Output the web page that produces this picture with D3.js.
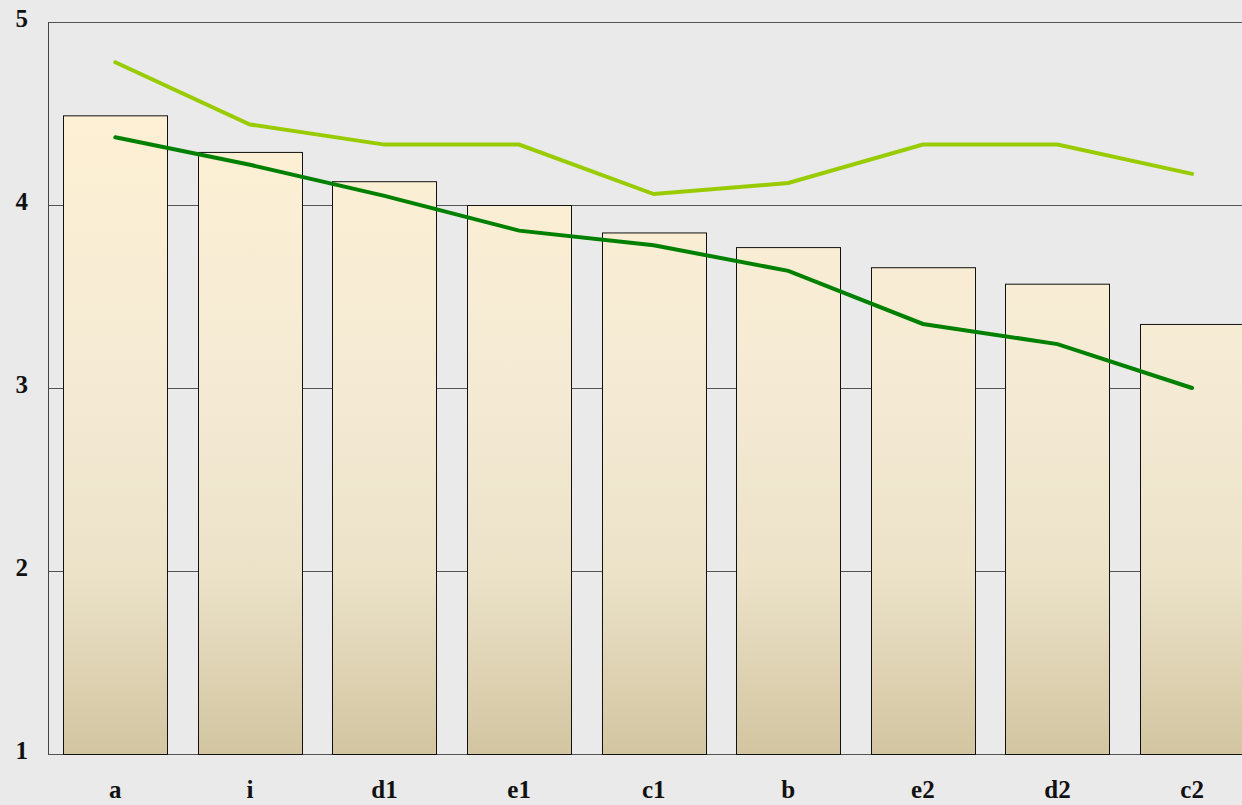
<!DOCTYPE html>
<html>
<head>
<meta charset="utf-8">
<script src="https://cdn.jsdelivr.net/npm/d3@7"></script>
<style>
  html, body { margin: 0; padding: 0; background: #eaeaea; overflow: hidden; }
  svg { display: block; }
</style>
</head>
<body>
<div id="chart"></div>
<script>
// Data
const categories = ["a", "i", "d1", "e1", "c1", "b", "e2", "d2", "c2"];
const barValues = [4.49, 4.29, 4.13, 4.00, 3.85, 3.77, 3.66, 3.57, 3.35];
const darkLine = [4.37, 4.22, 4.05, 3.86, 3.78, 3.64, 3.35, 3.24, 3.00];
const lightLine = [4.78, 4.44, 4.33, 4.33, 4.06, 4.12, 4.33, 4.33, 4.17];
const yTicks = [1, 2, 3, 4, 5];

// Dimensions
const width = 1242;
const height = 805;
const plotLeft = 48, plotTop = 22, plotBottom = 754;
const step = 134.6;

const x = d3.scaleBand()
  .domain(categories)
  .range([plotLeft, plotLeft + step * categories.length])
  .paddingInner(0.226)
  .paddingOuter(0.113);

const y = d3.scaleLinear()
  .domain([1, 5])
  .range([plotBottom, plotTop]);

const svg = d3.select("#chart").append("svg")
  .attr("width", width)
  .attr("height", height);

// bar gradient
const grad = svg.append("defs").append("linearGradient")
  .attr("id", "barGrad")
  .attr("gradientUnits", "userSpaceOnUse")
  .attr("x1", 0).attr("x2", 0)
  .attr("y1", y(4.5)).attr("y2", plotBottom);
grad.append("stop").attr("offset", "0%").attr("stop-color", "#fdf0d4");
grad.append("stop").attr("offset", "45%").attr("stop-color", "#f4ead4");
grad.append("stop").attr("offset", "72%").attr("stop-color", "#ebe2c8");
grad.append("stop").attr("offset", "100%").attr("stop-color", "#d3c5a1");

svg.append("rect")
  .attr("width", width).attr("height", height)
  .attr("fill", "#eaeaea");

// gridlines
svg.append("g")
  .selectAll("line")
  .data(yTicks)
  .join("line")
  .attr("x1", plotLeft).attr("x2", width)
  .attr("y1", d => y(d) + 0.5).attr("y2", d => y(d) + 0.5)
  .attr("stroke", "#555")
  .attr("stroke-width", 1);

// left frame
svg.append("line")
  .attr("x1", plotLeft + 0.5).attr("x2", plotLeft + 0.5)
  .attr("y1", plotTop).attr("y2", plotBottom + 1)
  .attr("stroke", "#444");

// bars
svg.append("g")
  .selectAll("rect")
  .data(barValues)
  .join("rect")
  .attr("x", (d, i) => Math.round(x(categories[i])) + 0.5)
  .attr("y", d => y(d) + 0.5)
  .attr("width", Math.round(x.bandwidth()))
  .attr("height", d => y(1) - y(d))
  .attr("fill", "url(#barGrad)")
  .attr("stroke", "#111")
  .attr("stroke-width", 1);

// lines
const line = d3.line()
  .x((d, i) => x(categories[i]) + x.bandwidth() / 2)
  .y(d => y(d));

svg.append("path")
  .datum(lightLine)
  .attr("fill", "none")
  .attr("stroke", "#99cc00")
  .attr("stroke-width", 4)
  .attr("stroke-linecap", "round")
  .attr("d", line);

svg.append("path")
  .datum(darkLine)
  .attr("fill", "none")
  .attr("stroke", "#008000")
  .attr("stroke-width", 4)
  .attr("stroke-linecap", "round")
  .attr("d", line);

// y labels
svg.append("g")
  .attr("font-family", "'Liberation Serif', serif")
  .attr("font-weight", "bold")
  .attr("font-size", 25)
  .selectAll("text")
  .data(yTicks)
  .join("text")
  .attr("x", 28)
  .attr("y", d => y(d) - 4)
  .attr("dy", "0.35em")
  .attr("text-anchor", "end")
  .attr("fill", "#111")
  .text(d => d);

// x labels
svg.append("g")
  .attr("font-family", "'Liberation Serif', serif")
  .attr("font-weight", "bold")
  .attr("font-size", 25)
  .selectAll("text")
  .data(categories)
  .join("text")
  .attr("x", d => x(d) + x.bandwidth() / 2)
  .attr("y", 798)
  .attr("text-anchor", "middle")
  .attr("fill", "#111")
  .text(d => d);
</script>
</body>
</html>
